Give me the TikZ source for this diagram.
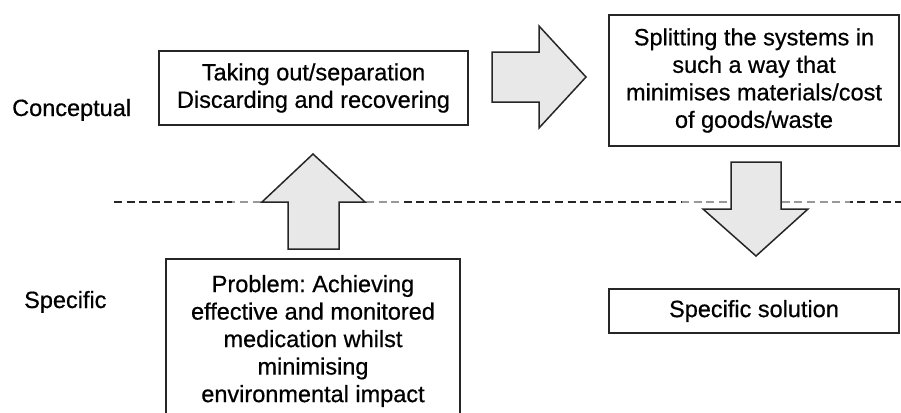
\documentclass[tikz,border=0pt]{standalone}
\usepackage{fontspec}
\setmainfont{Liberation Sans}[FakeBold=0.6]
\begin{document}
\begin{tikzpicture}[x=1bp,y=-1bp,
  every node/.style={font=\fontsize{23.5bp}{27.5bp}\selectfont\frenchspacing, text=black, inner sep=0pt},
  box/.style={draw=black!85, line width=1.5bp, align=center},
  blockarrow/.style={draw=black!85, line width=1.5bp, fill=black!9, line join=miter},
  divider/.style={line width=1.7bp, dash pattern=on 8bp off 4.6bp}]
\useasboundingbox (0,0) rectangle (901,412);
\clip (0,0) rectangle (901,412);
% dashed divider
\coordinate (dl) at (114,202);
\coordinate (dr) at (901,202);
\draw[divider, black!85] (dl) -- (dr);
\begin{scope}
  \clip (232,190) rectangle (262,214) (365,190) rectangle (400,214)
        (682,190) rectangle (731,214) (781,190) rectangle (850,214);
  \draw[divider, black!40] (dl) -- (dr);
\end{scope}
% labels
\node[anchor=base west] (conc) at (12,116) {Conceptual};
\node[anchor=base west] (spec) at (24,308) {Specific};
% boxes
\node[box, minimum width=309bp, minimum height=74bp] (take) at (313.5,88)
  {Taking out/separation\\Discarding and recovering};
\node[box, minimum width=290bp, minimum height=131bp] (split) at (754,80.5)
  {Splitting the systems in\\such a way that\\minimises materials/cost\\of goods/waste};
\node[box, minimum width=294bp, minimum height=164bp] (prob) at (313,341)
  {Problem: Achieving\\effective and monitored\\medication whilst\\minimising\\environmental impact};
\node[box, minimum width=290bp, minimum height=44bp] (sol) at (754,311)
  {Specific solution};
% block arrows
\draw[blockarrow] (288,249) -- (288,202) -- (262,202) -- (313,154) -- (365,202)
  -- (339,202) -- (339,249) -- cycle;
\draw[blockarrow] (492,52) -- (539,52) -- (539,26) -- (586,77) -- (539,128)
  -- (539,102) -- (492,102) -- cycle;
\draw[blockarrow] (731,162) -- (781,162) -- (781,209) -- (808,209) -- (756,256)
  -- (703,209) -- (731,209) -- cycle;
\end{tikzpicture}
\end{document}
